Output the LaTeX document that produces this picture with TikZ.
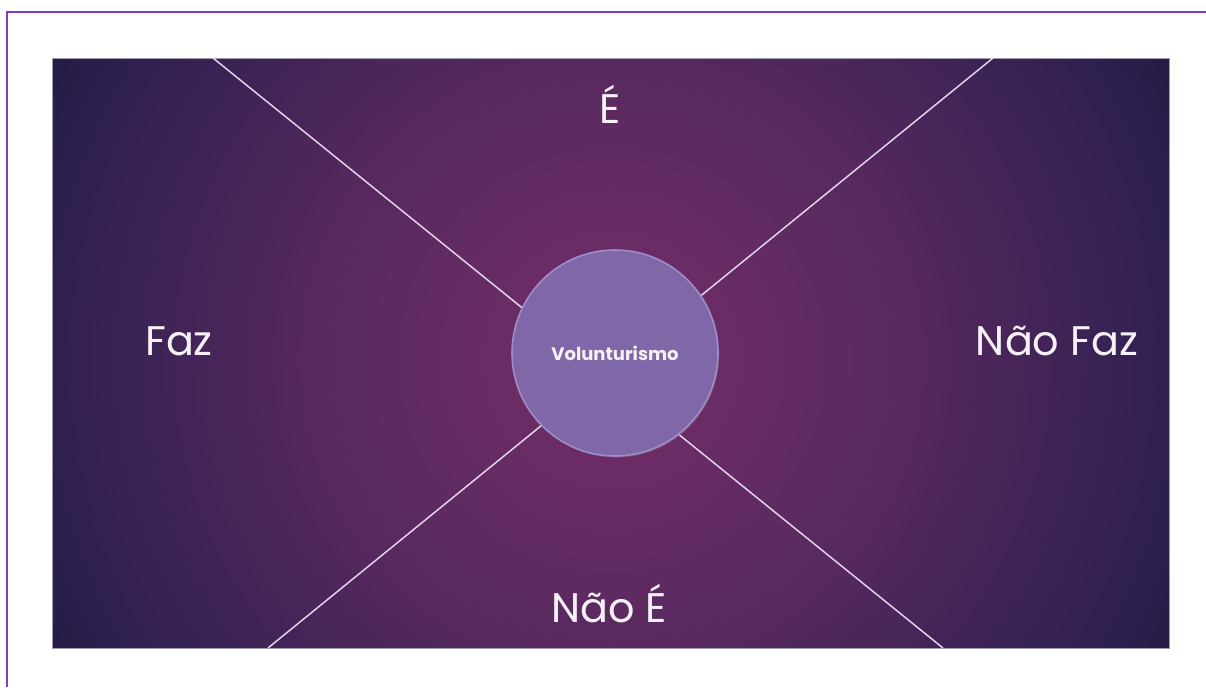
\documentclass[tikz,border=0pt]{standalone}
\usepackage{fontspec}
\setmainfont{Poppins}
\usetikzlibrary{shadows}
\definecolor{frame}{HTML}{7F3FBF}
\definecolor{cC}{HTML}{702D68}
\definecolor{cC2}{HTML}{6B2C66}
\definecolor{cM}{HTML}{57295F}
\definecolor{cD}{HTML}{3E2356}
\definecolor{cE}{HTML}{2E2050}
\definecolor{cK}{HTML}{241B45}
\definecolor{linec}{HTML}{E6D6EC}
\definecolor{ballfill}{HTML}{8067A7}
\definecolor{balledge}{HTML}{A08CC9}
\definecolor{txt}{HTML}{F6F1F6}
\pgfdeclareradialshading{bgshade}{\pgfpoint{0bp}{0bp}}{color(0bp)=(cC); color(4bp)=(cC2); color(11.5bp)=(cM); color(18bp)=(cD); color(22bp)=(cE); color(25bp)=(cK); color(50bp)=(cK)}
\tikzset{
  divider/.style={draw=linec, line width=1.1pt},
  label/.style={text=txt, font=\fontsize{31}{36}\selectfont, anchor=base, inner sep=0pt},
  ball/.style={circle, minimum size=154.5pt, inner sep=0pt, fill=ballfill, draw=balledge, line width=1.2pt,
    text=txt, font=\bfseries\fontsize{13.5}{15}\selectfont,
    drop shadow={opacity=0.35, shadow xshift=1pt, shadow yshift=-1.2pt}},
}
\begin{document}
\begin{tikzpicture}[x=0.75pt,y=-0.75pt]
\useasboundingbox (0,0) rectangle (1206,687);
% outer frame (only top and left visible)
\draw[frame, line width=1.5pt] (7,687) -- (7,12) -- (1206,12);
% background panel
\begin{scope}
  \clip (52,58) rectangle (1169,648);
  \shade[shading=bgshade] (612,360) circle [radius=480pt];
\end{scope}
\draw[draw=white!55!cE, line width=0.4pt] (52,58) rectangle (1169,648);
% divider end points
\coordinate (tl) at (213,58);
\coordinate (br) at (943,648);
\coordinate (tr) at (993,58);
\coordinate (bl) at (268,648);
\draw[divider] (tl) -- (br);
\draw[divider] (tr) -- (bl);
% central circle
\node[ball] (c) at (615,353) {Volunturismo};
% labels
\node[label] (faz) at (179,355) {Faz};
\node[label] (naofaz) at (1057,355) {Não Faz};
\node[label] (e) at (610,123) {É};
\node[label] (naoe) at (609,622) {Não É};
\end{tikzpicture}
\end{document}
